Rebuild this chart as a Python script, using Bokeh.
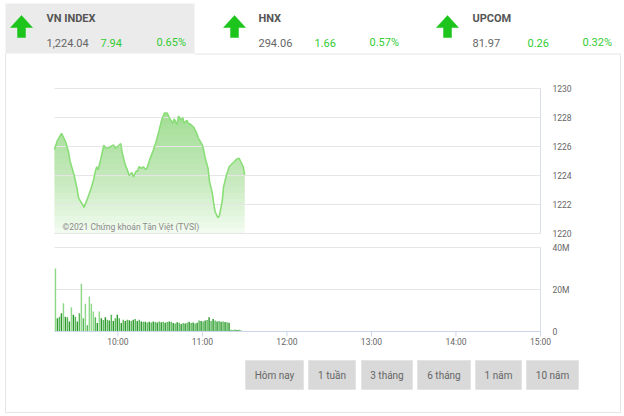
import numpy as np
from bokeh.plotting import figure
from bokeh.models import Range1d
from bokeh.core.properties import value
from bokeh.embed import file_html
from bokeh.resources import INLINE

# ---------------- data ----------------
tab_names = ["VN INDEX", "HNX", "UPCOM"]
tab_last = ["1,224.04", "294.06", "81.97"]
tab_change = ["7.94", "1.66", "0.26"]
tab_pct = ["0.65%", "0.57%", "0.32%"]

price_times = ["09:15", "09:17", "09:20", "09:21", "09:23", "09:25", "09:26", "09:29",
               "09:31", "09:32", "09:33", "09:36", "09:38", "09:41", "09:43", "09:44",
               "09:45", "09:46", "09:48", "09:50", "09:51", "09:53", "09:55", "09:57",
               "09:58", "10:00", "10:02", "10:03", "10:05", "10:07", "10:08", "10:10",
               "10:11", "10:13", "10:14", "10:15", "10:17", "10:18", "10:20", "10:21",
               "10:23", "10:25", "10:27", "10:29", "10:31", "10:33", "10:35", "10:36",
               "10:37", "10:39", "10:40", "10:42", "10:43", "10:45", "10:46", "10:47",
               "10:49", "10:50", "10:52", "10:54", "10:56", "10:57", "11:00", "11:01",
               "11:02", "11:04", "11:05", "11:07", "11:08", "11:09", "11:11", "11:12",
               "11:14", "11:15", "11:17", "11:18", "11:19", "11:22", "11:23", "11:24",
               "11:26", "11:27", "11:29", "11:30"]
price_vals = [1225.8, 1226.4, 1226.9, 1226.7, 1226.3, 1225.6, 1225.0, 1224.0,
              1223.1, 1222.5, 1222.3, 1221.8, 1222.3, 1223.1, 1223.8, 1224.3,
              1224.6, 1224.4, 1225.2, 1226.1, 1225.9, 1225.9, 1226.0, 1226.1,
              1225.9, 1226.0, 1226.2, 1225.6, 1224.8, 1224.3, 1224.0, 1224.2,
              1223.9, 1224.3, 1224.3, 1224.6, 1224.5, 1224.6, 1224.4, 1224.6,
              1225.2, 1225.7, 1226.3, 1227.0, 1227.8, 1228.3, 1228.3, 1228.1,
              1227.9, 1227.6, 1227.9, 1227.5, 1228.1, 1227.8, 1228.0, 1227.6,
              1227.8, 1227.6, 1227.5, 1227.3, 1226.9, 1226.6, 1226.1, 1225.7,
              1225.2, 1224.5, 1223.6, 1222.8, 1222.1, 1221.5, 1221.1, 1221.2,
              1222.2, 1223.2, 1224.0, 1224.3, 1224.6, 1224.9, 1225.0, 1225.1,
              1225.2, 1225.0, 1224.6, 1224.04]

vol_first_time = "09:15"
vol_step_seconds = 85
vol_millions = [30, 6.3, 7, 8.7, 13.5, 7, 6.8, 4.8, 11.6, 8, 7, 4.8, 8.7, 22.7, 6.3, 13.2,
                3, 16.7, 13.2, 9.5, 6.8, 4, 9.5, 6.3, 5.5, 6.8, 5.6, 5.2, 8, 5, 6.3, 8,
                6.3, 4, 5.6, 5, 5.6, 5.3, 5, 5.6, 5.9, 5, 5.6, 4.8, 4.6, 4.6, 4.3,
                4.6, 4.3, 4.8, 4.5, 4.3, 4.8, 4.4, 4.6, 4.2, 4.5, 4.8, 4.6, 4.0, 3.8,
                4.4, 4.2, 3.6, 4.0, 3.8, 4.2, 4.6, 4.0, 4.3, 3.8, 4.2, 5.2, 5.0, 4.8,
                5.2, 5.5, 6.8, 5.0, 6.0, 5.2, 4.8, 5.0, 4.6, 4.8, 4.5, 4.4, 4.2,
                0.8, 0.6, 0.9, 0.7, 0.8, 0.5]

price_ticks = [1220, 1222, 1224, 1226, 1228, 1230]
vol_ticks = [0, 20, 40]
vol_tick_labels = ["0", "20M", "40M"]
hour_ticks = [10, 11, 12, 13, 14, 15]
hour_labels = ["10:00", "11:00", "12:00", "13:00", "14:00", "15:00"]
session_start, session_end = "09:15", "15:00"
buttons = ["Hôm nay", "1 tuần", "3 tháng", "6 tháng", "1 năm", "10 năm"]
watermark = "©2021 Chứng khoán Tân Việt (TVSI)"

# ---------------- helpers / layout ----------------
def hrs(s):
    h, m = s.split(":")
    return int(h) + int(m) / 60.0

W, H = 624, 416
FONT = value("Roboto")
t0, t1 = hrs(session_start), hrs(session_end)
X0, X1 = 54, 540            # pixel x of session start / end
xs = (X1 - X0) / (t1 - t0)  # px per hour
PY_TOP, PY_BOT = 88, 233    # pixel y of 1230 / 1220
ps = (PY_BOT - PY_TOP) / (price_ticks[-1] - price_ticks[0])
VY_TOP, VY_BOT = 247, 331   # pixel y of 40M / 0
vs = (VY_BOT - VY_TOP) / (vol_ticks[-1] - vol_ticks[0])

p = figure(width=W, height=H, x_range=Range1d(0, W), y_range=Range1d(H, 0),
           min_border=0, toolbar_location=None, output_backend="svg")
p.axis.visible = False
p.grid.visible = False
p.outline_line_color = None
p.background_fill_color = "white"
p.border_fill_color = "white"

p.extra_x_ranges["t"] = Range1d(t0 - X0 / xs, t1 + (W - X1) / xs)
p.extra_y_ranges["price"] = Range1d(price_ticks[0] - (H - PY_BOT) / ps,
                                    price_ticks[-1] + PY_TOP / ps)
p.extra_y_ranges["vol"] = Range1d(vol_ticks[0] - (H - VY_BOT) / vs,
                                  vol_ticks[-1] + VY_TOP / vs)

# ---------------- header tabs ----------------
p.quad(left=5, right=194, top=3, bottom=53, fill_color="#ebebeb", line_color=None)
# panel border
p.line(x=[194, 620, 620, 5, 5], y=[53.5, 53.5, 412, 412, 53], line_color="#e6e6e6", line_width=1)

arrow_cx = [21, 234, 447]
name_x = [46, 258, 472]
chg_x = [100, 314, 527]
pct_x = [156, 369, 582]
ax, ay = [], []
for cx in arrow_cx:
    ax.append([cx, cx + 11, cx + 4, cx + 4, cx - 4, cx - 4, cx - 11])
    ay.append([15, 27, 27, 37, 37, 27, 27])
p.patches(xs=ax, ys=ay, fill_color="#1cc41c", line_color="#1cc41c", line_width=0.5)

p.text(x=name_x, y=[18] * 3, text=tab_names, text_font=FONT, text_font_size="11px",
       text_font_style="bold", text_color="#555555", text_baseline="middle")
p.text(x=name_x, y=[42] * 3, text=tab_last, text_font=FONT, text_font_size="11px",
       text_color="#666666", text_baseline="middle")
p.text(x=chg_x, y=[42] * 3, text=tab_change, text_font=FONT, text_font_size="11px",
       text_color="#33cc33", text_baseline="middle")
p.text(x=pct_x, y=[42] * 3, text=tab_pct, text_font=FONT, text_font_size="11px",
       text_color="#33cc33", text_baseline="middle")

# ---------------- price chart ----------------
pt = np.array([hrs(s) for s in price_times])
pv = np.array(price_vals)
base = price_ticks[0]

levels = base + 0.4 * np.arange(22)
for lv in levels:
    p.varea(x=pt, y1=np.full(len(pt), lv), y2=np.maximum(pv, lv), fill_color="#78da64",
            fill_alpha=0.048, x_range_name="t", y_range_name="price")
p.varea(x=pt, y1=np.full(len(pt), base), y2=pv, fill_color="#78da64", fill_alpha=0.05,
        x_range_name="t", y_range_name="price")

p.segment(x0=[t0] * len(price_ticks), x1=[t1] * len(price_ticks), y0=price_ticks, y1=price_ticks,
          line_color="#e6e6e6", line_width=1, x_range_name="t", y_range_name="price")
p.segment(x0=[t1], x1=[t1], y0=[price_ticks[0]], y1=[price_ticks[-1]], line_color="#d8dde8",
          line_width=1, x_range_name="t", y_range_name="price")
p.line(x=pt, y=pv, line_color="#8ade78", line_width=1.6, x_range_name="t", y_range_name="price")

p.text(x=[t1] * len(price_ticks), y=price_ticks, text=[str(v) for v in price_ticks],
       x_offset=12, text_font=FONT, text_font_size="8.5px", text_color="#666666",
       text_baseline="middle", x_range_name="t", y_range_name="price")

p.text(x=[hrs("09:15")], y=[1220.45], text=[watermark], x_offset=8, text_font=FONT,
       text_font_size="8.5px", text_color="#8a8a8a", text_baseline="middle",
       x_range_name="t", y_range_name="price")

# ---------------- volume chart ----------------
vt = np.array([hrs(vol_first_time) + (i * vol_step_seconds + 40) / 3600.0
               for i in range(len(vol_millions))])
vv = np.array(vol_millions)
p.segment(x0=[t0] * 2, x1=[t1] * 2, y0=vol_ticks[1:], y1=vol_ticks[1:],
          line_color="#e6e6e6", line_width=1, x_range_name="t", y_range_name="vol")
p.segment(x0=[t1], x1=[t1], y0=[vol_ticks[0]], y1=[vol_ticks[-1]], line_color="#d8dde8",
          line_width=1, x_range_name="t", y_range_name="vol")
colors = ["#8fd88a" if v > 9 else ("#2e9a2e" if i % 2 else "#58b858") for i, v in enumerate(vv)]
p.vbar(x=vt, top=vv, bottom=0, width=62 / 3600.0, fill_color=colors, line_color=None,
       x_range_name="t", y_range_name="vol")
p.segment(x0=[t0], x1=[t1], y0=[0], y1=[0], line_color="#ccd6eb", line_width=1,
          x_range_name="t", y_range_name="vol")
p.segment(x0=hour_ticks, x1=hour_ticks, y0=[0] * len(hour_ticks),
          y1=[-5 / vs] * len(hour_ticks), line_color="#ccd6eb", line_width=1,
          x_range_name="t", y_range_name="vol")
p.text(x=[t1] * len(vol_ticks), y=vol_ticks, text=vol_tick_labels, x_offset=12,
       text_font=FONT, text_font_size="8.5px", text_color="#666666", text_baseline="middle",
       x_range_name="t", y_range_name="vol")
p.text(x=hour_ticks, y=[0] * len(hour_ticks), text=hour_labels, y_offset=10,
       text_font=FONT, text_font_size="8.5px", text_color="#666666", text_align="center",
       text_baseline="middle", x_range_name="t", y_range_name="vol")

# ---------------- range buttons ----------------
btn_left = [245, 308, 361, 417, 475, 526]
btn_right = [303, 355, 412, 470, 521, 578]
p.quad(left=btn_left, right=btn_right, top=[360] * 6, bottom=[389] * 6,
       fill_color="#d9d9d9", line_color="#e4e4e4", line_width=1)
p.text(x=[(a + b) / 2 for a, b in zip(btn_left, btn_right)], y=[375] * 6, text=buttons,
       text_font=FONT, text_font_size="10px", text_color="#666666", text_align="center",
       text_baseline="middle")

open("out.html", "w").write(file_html(p, INLINE))
